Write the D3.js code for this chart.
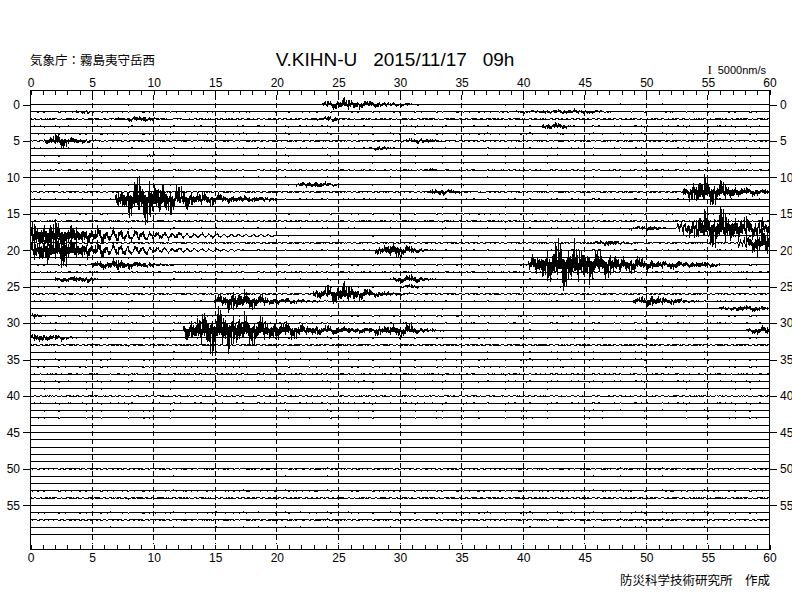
<!DOCTYPE html>
<html>
<head>
<meta charset="utf-8">
<script src="https://cdn.jsdelivr.net/npm/d3@7"></script>
<style>
  body { margin: 0; background: #fff; }
  svg { display: block; }
  text { font-family: "Liberation Sans", Arial, sans-serif; fill: #000; }
  .jp { font-family: "Noto Sans CJK JP", sans-serif; }
</style>
</head>
<body>
<svg id="chart" width="792" height="612"></svg>
<script>
// minutes along x, one trace per minute of the hour
const minuteTicks = d3.range(0, 61)
const gridMinutes = d3.range(5, 60, 5)
const rowTicks = d3.range(0, 56, 5)
const rows = d3.range(0, 60)

// background noise level of each trace (px)
const rowNoise = [
  0.6, 0.8, 1.0, 1.0, 1.0, 0.8, 0.6, 0.8, 0.4, 0.6,
  0.6, 0.6, 0.8, 0.8, 0.6, 0.6, 1.0, 0.8, 0.6, 0.6,
  0.8, 0.6, 0.6, 0.8, 0.8, 0.8, 0.6, 0.8, 0.6, 0.6,
  0.6, 0.8, 0.8, 1.0, 0.6, 1.0, 0.5, 1.0, 1.0, 0.5,
  0.3, 1.0, 0.8, 0.3, 0.0, 0.4, 0.3, 0.0, 0.0, 0.4,
  1.0, 0.3, 0.4, 1.0, 1.0, 0.4, 1.0, 1.0, 0.4, 0.0
]

// events: [row, start min, peak min, end min, peak amplitude nm/s, long period min]
const events = [
  [0, 23.8, 25.3, 33, 3800, 0],
  [1, 3, 4.5, 6, 1200, 0],
  [1, 38, 45, 50, 1200, 0],
  [2, 6.5, 9, 13, 1500, 0],
  [2, 23, 24.5, 27, 1500, 0],
  [3, 41.5, 42.5, 45, 2400, 0],
  [5, 1.2, 2.2, 6, 4500, 0],
  [5, 30, 32, 35, 1500, 0],
  [6, 27.5, 28.5, 31, 1200, 0],
  [7, 9.5, 10, 11, 900, 0],
  [9, 31.5, 32.5, 34, 900, 0],
  [11, 21.5, 23, 27, 1800, 0],
  [12, 32, 33.5, 37, 1800, 0],
  [12, 53, 54.5, 62, 9000, 0],
  [13, 7, 8.8, 20, 13000, 0],
  [17, 48.5, 50.5, 52.5, 1500, 0],
  [17, 52.5, 55, 72, 11000, 0.3],
  [18, -5, 0.8, 20, 9000, 0.6],
  [19, 45.5, 47, 51, 1500, 0],
  [19, 57.5, 59.5, 66, 8500, 0.3],
  [20, -3, 1.5, 17, 9000, 0.6],
  [20, 28, 29.5, 33, 5400, 0],
  [22, 5, 7, 12, 4000, 0],
  [22, 40.5, 43, 56, 14000, 0],
  [24, 2, 4.5, 6, 2400, 0],
  [24, 29.5, 31, 34, 2600, 0],
  [25, 30, 31, 33, 1200, 0],
  [26, 23, 25.3, 31, 6500, 0],
  [27, 15, 16.5, 24, 7000, 0],
  [27, 49, 50.5, 55, 4000, 0],
  [28, 56, 58.5, 62, 1800, 0],
  [29, 0, 0.3, 2, 1200, 0],
  [31, 12.5, 14.5, 30, 13000, 0],
  [31, 28, 30.5, 34, 4000, 0],
  [31, 58.3, 59.5, 63, 3000, 0],
  [32, -1, 0.8, 5, 3000, 0]
]

// fixed wiggle texture, cycled along each trace
const texA = [1, .3, .6, .2, .9, .4, .15, .7, 1, .25, .5, .35, .8, .2, .45, .65, .3]
const texB = [1, .6, .9, .45, 1, .75, .5, 1, .7, .95, .55]

const svg = d3.select('#chart')
const plotL = 30, plotR = 769, plotT = 90, plotB = 549

const x = d3.scaleLinear().domain([0, 60]).range([plotL, plotR])
const y = d3.scaleLinear().domain([0, 59]).range([104, 534])
const amp = d3.scaleLinear().domain([0, 5000]).range([0, 10])

// headers
svg.append('text').attr('class', 'jp')
    .attr('x', 30).attr('y', 65)
    .style('font-size', '12.5px')
    .text('気象庁：霧島夷守岳西')

svg.append('text')
    .attr('x', 395).attr('y', 66)
    .attr('text-anchor', 'middle')
    .style('font-size', '19px')
    .style('white-space', 'pre')
    .text('V.KIHN-U   2015/11/17   09h')

// amplitude scale bar label
const scaleLabel = svg.append('text')
    .attr('x', 766).attr('y', 74)
    .attr('text-anchor', 'end')
    .style('font-size', '11px')
    .style('white-space', 'pre')
scaleLabel.append('tspan')
    .style('font-family', '"Liberation Serif", serif')
    .style('font-size', '12px')
    .text('I  ')
scaleLabel.append('tspan').text('5000nm/s')

svg.append('text').attr('class', 'jp')
    .attr('x', 770).attr('y', 585)
    .attr('text-anchor', 'end')
    .style('font-size', '12.5px')
    .style('white-space', 'pre')
    .text('防災科学技術研究所　作成')

// dashed minute grid
svg.append('g')
    .attr('stroke', '#000')
    .attr('stroke-dasharray', '5,3')
    .attr('shape-rendering', 'crispEdges')
  .selectAll('line')
  .data(gridMinutes)
  .join('line')
    .attr('x1', d => Math.round(x(d)) + 0.5)
    .attr('x2', d => Math.round(x(d)) + 0.5)
    .attr('y1', plotT + 5)
    .attr('y2', plotB - 5)

// traces
const step = 0.05
const times = d3.range(0, 60 + step / 2, step)
const carrier = i => (i % 2 ? -1 : 1) * texA[i % 17] * texB[i % 11]

const envelope = (e, t) => {
    const [, t0, tp, t1] = e
    if (t < t0 || t > t1) return 0
    if (t < tp) return 0.35 + 0.65 * (t - t0) / (tp - t0)
    const u = (t - tp) / (t1 - tp)
    return u < 0.08 ? 1 : Math.exp(-2.8 * (u - 0.08))
}

const traceData = rows.map(r => {
    const evs = events.filter(e => e[0] === r)
    return times.map((t, i) => {
        let v = 0
        evs.forEach(e => {
            const env = envelope(e, t)
            if (!env) return
            const c = carrier(i)
            // long-period part shows up in the coda as the spikes die away
            const s = e[5]
                ? env * c + (1 - env) * (0.6 * Math.sin(2 * Math.PI * t / e[5]) + 0.3 * c)
                : c
            v += e[4] * env * s
        })
        const noise = rowNoise[r] * carrier(i + 5) * texA[(i * 3) % 17]
        return { t, dy: amp(v) + noise }
    })
})

svg.append('clipPath').attr('id', 'plot')
  .append('rect')
    .attr('x', plotL).attr('y', plotT)
    .attr('width', plotR - plotL).attr('height', plotB - plotT)

const line = (r) => d3.line()
    .x(d => x(d.t))
    .y(d => y(r) + 0.5 - d.dy)

svg.append('g')
    .attr('clip-path', 'url(#plot)')
    .attr('fill', 'none')
    .attr('stroke', '#000')
    .attr('stroke-width', 1)
    .attr('shape-rendering', 'crispEdges')
  .selectAll('path')
  .data(traceData)
  .join('path')
    .attr('d', (d, r) => line(r)(d))

// frame
svg.append('rect')
    .attr('x', plotL + 0.5).attr('y', plotT + 0.5)
    .attr('width', plotR - plotL).attr('height', plotB - plotT)
    .attr('fill', 'none').attr('stroke', '#000')
    .attr('shape-rendering', 'crispEdges')

// axes
const styleAxis = g => {
    g.select('.domain').remove()
    g.selectAll('line').attr('shape-rendering', 'crispEdges')
    g.selectAll('text').style('font-size', '12px')
        .style('font-family', '"Liberation Sans", Arial, sans-serif')
}
const minuteFmt = d => d % 5 === 0 ? d : ''

svg.append('g')
    .attr('transform', `translate(0.5,${plotT})`)
    .call(d3.axisTop(x).tickValues(minuteTicks).tickFormat(minuteFmt)
        .tickSizeInner(-5).tickSizeOuter(0).tickPadding(3))
    .call(styleAxis)

svg.append('g')
    .attr('transform', `translate(0.5,${plotB + 1})`)
    .call(d3.axisBottom(x).tickValues(minuteTicks).tickFormat(minuteFmt)
        .tickSizeInner(-5).tickSizeOuter(0).tickPadding(3))
    .call(styleAxis)

svg.append('g')
    .attr('transform', `translate(${plotL},0.5)`)
    .call(d3.axisLeft(y).tickValues(rowTicks).tickSize(7).tickPadding(3))
    .call(styleAxis)

svg.append('g')
    .attr('transform', `translate(${plotR + 1},0.5)`)
    .call(d3.axisRight(y).tickValues(rowTicks).tickSize(7).tickPadding(3))
    .call(styleAxis)
</script>
</body>
</html>
